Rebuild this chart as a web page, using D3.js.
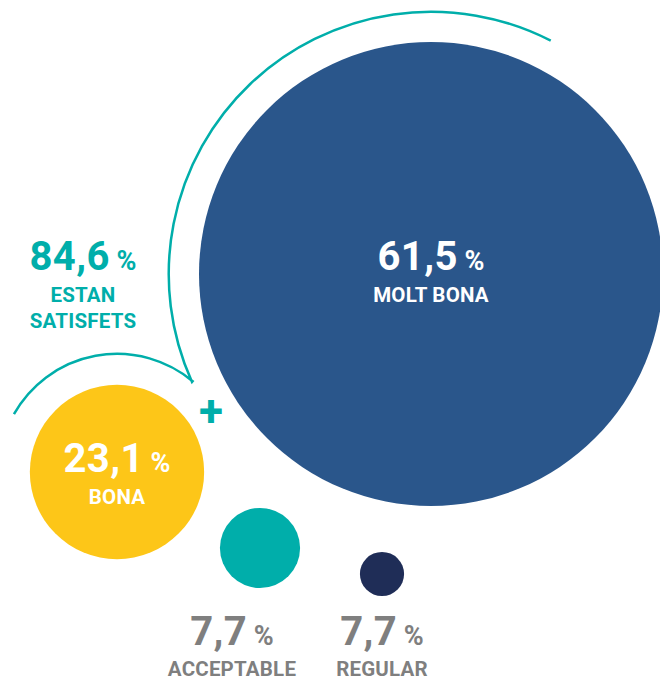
<!DOCTYPE html>
<html>
<head>
<meta charset="utf-8">
<script src="https://cdn.jsdelivr.net/npm/d3@7"></script>
<style>
  body { margin: 0; background: #fff; }
  svg text { font-family: Roboto, "Noto Sans", sans-serif; font-weight: 700; }
</style>
</head>
<body>
<div id="chart"></div>
<script>
// data
var categories = ["MOLT BONA", "BONA", "ACCEPTABLE", "REGULAR"];
var values = [61.5, 23.1, 7.7, 7.7];
var satisfiedValue = 84.6;
var satisfiedLabel = ["ESTAN", "SATISFETS"];

var colors = ["#2a568b", "#fdc618", "#00aeaa", "#1f2d57"];
var teal = "#00aeaa", grey = "#7f7f7f";

var width = 660, height = 680;

// layout of the bubbles (centre, size tweak, where the label goes)
var layout = [
  {cx: 431, cy: 274, k: 1,    inside: true,  lx: 431, ly: 270},
  {cx: 117, cy: 472, k: 1,    inside: true,  lx: 117, ly: 472},
  {cx: 260, cy: 548, k: 1.38, inside: false, lx: 232, ly: 645},
  {cx: 382, cy: 574, k: 0.76, inside: false, lx: 382, ly: 645}
];

var fmt = function(v) { return d3.format(".1f")(v).replace(".", ","); };

var r = d3.scaleLinear().domain([0, d3.max(values)]).range([0, 232]);

var svg = d3.select("#chart").append("svg")
    .attr("width", width)
    .attr("height", height);

var data = values.map(function(v, i) {
  return {name: categories[i], value: v, pos: layout[i], color: colors[i]};
});

// speech bubble arcs round the two big circles
var tip = [192, 382];
var big = layout[0], yel = layout[1];
var rBig = Math.hypot(tip[0] - big.cx, tip[1] - big.cy);
var rYel = Math.hypot(tip[0] - yel.cx, tip[1] - yel.cy) + 1;
var aBigTip = Math.atan2(tip[1] - big.cy, tip[0] - big.cx);
var aYelTip = Math.atan2(tip[1] - yel.cy, tip[0] - yel.cx);
var p = d3.path();
p.arc(yel.cx, yel.cy, rYel, Math.atan2(412 - yel.cy, 10 - yel.cx), aYelTip, false);
p.lineTo(tip[0], tip[1]);
p.arc(big.cx, big.cy, rBig, aBigTip, Math.atan2(46 - big.cy, 548 - big.cx) + 2 * Math.PI, false);
svg.append("path")
    .attr("d", p.toString())
    .attr("fill", "none")
    .attr("stroke", teal)
    .attr("stroke-width", 2.5)
    .attr("stroke-linejoin", "miter");

svg.selectAll(".bubble")
  .data(data)
  .enter().append("circle")
    .attr("class", "bubble")
    .attr("cx", function(d) { return d.pos.cx; })
    .attr("cy", function(d) { return d.pos.cy; })
    .attr("r", function(d) { return r(d.value) * d.pos.k; })
    .attr("fill", function(d) { return d.color; });

// value labels
var lab = svg.selectAll(".lab")
  .data(data)
  .enter().append("g")
    .attr("class", "lab")
    .attr("transform", function(d) { return "translate(" + d.pos.lx + "," + d.pos.ly + ")"; })
    .attr("fill", function(d) { return d.pos.inside ? "#fff" : grey; })
    .attr("text-anchor", "middle");

var num = lab.append("text");
num.append("tspan").attr("font-size", 40).attr("letter-spacing", 0.4).text(function(d) { return fmt(d.value); });
num.append("tspan").attr("font-size", 27).text(" %");

lab.append("text")
    .attr("y", function(d) { return d.pos.inside ? 32 : 31; })
    .attr("font-size", 20.5)
    .attr("letter-spacing", 0.2)
    .text(function(d) { return d.name; });

// satisfied total
var sat = svg.append("g")
    .attr("transform", "translate(83,270)")
    .attr("fill", teal)
    .attr("text-anchor", "middle");
var st = sat.append("text");
st.append("tspan").attr("font-size", 40).attr("letter-spacing", 0.4).text(fmt(satisfiedValue));
st.append("tspan").attr("font-size", 27).text(" %");
sat.selectAll(".sl")
  .data(satisfiedLabel)
  .enter().append("text")
    .attr("class", "sl")
    .attr("y", function(d, i) { return 32 + i * 26; })
    .attr("font-size", 20.5)
    .attr("letter-spacing", 0.2)
    .text(function(d) { return d; });

svg.append("text")
    .attr("x", 211)
    .attr("y", 426)
    .attr("text-anchor", "middle")
    .attr("fill", teal)
    .attr("font-size", 44)
    .text("+");
</script>
</body>
</html>
